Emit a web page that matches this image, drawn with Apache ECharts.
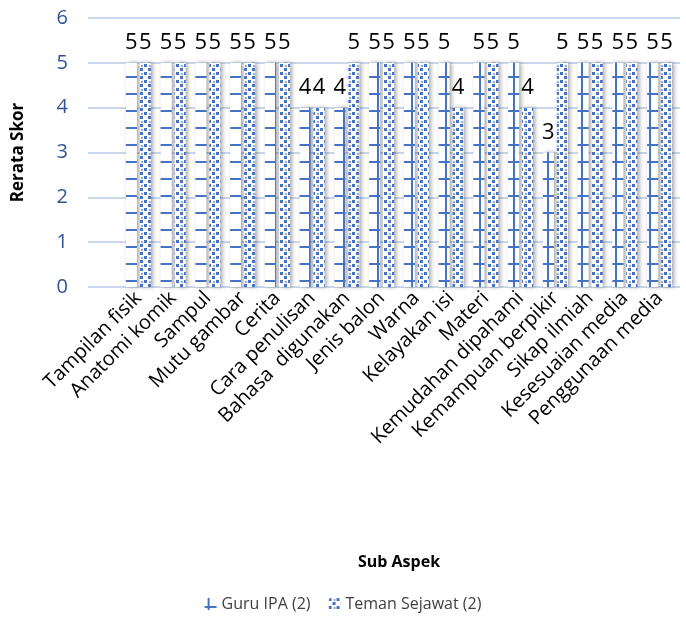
<!DOCTYPE html>
<html>
<head>
<meta charset="utf-8">
<script src="https://cdn.jsdelivr.net/npm/echarts@6/dist/echarts.min.js"></script>
<style>
  html, body { margin: 0; padding: 0; background: #fff; }
  #chart { width: 686px; height: 618px; }
</style>
</head>
<body>
<div id="chart"></div>
<script>
// data
var categories = ['Tampilan fisik', 'Anatomi komik', 'Sampul', 'Mutu gambar', 'Cerita',
  'Cara penulisan', 'Bahasa  digunakan', 'Jenis balon', 'Warna', 'Kelayakan isi', 'Materi',
  'Kemudahan dipahami', 'Kemampuan berpikir', 'Sikap ilmiah', 'Kesesuaian media', 'Penggunaan media'];
var guruIPA = [5, 5, 5, 5, 5, 4, 4, 5, 5, 5, 5, 5, 3, 5, 5, 5];
var temanSejawat = [5, 5, 5, 5, 5, 4, 5, 5, 5, 4, 5, 4, 5, 5, 5, 5];
var yTicks = [0, 1, 2, 3, 4, 5, 6];

var BLUE = '#4472C4';
var FONT = '"Open Sans", "Noto Sans", sans-serif';

// grid pattern for Guru IPA
function gridPattern() {
  var c = document.createElement('canvas');
  c.width = 17; c.height = 17;
  var g = c.getContext('2d');
  g.fillStyle = '#fff';
  g.fillRect(0, 0, 17, 17);
  g.fillStyle = BLUE;
  g.fillRect(3, 0, 2, 17);
  g.fillRect(0, 8, 17, 2);
  return c;
}
// dotted pattern for Teman Sejawat
function dotPattern() {
  var c = document.createElement('canvas');
  c.width = 8; c.height = 8;
  var g = c.getContext('2d');
  g.fillStyle = '#fff';
  g.fillRect(0, 0, 8, 8);
  g.fillStyle = BLUE;
  g.fillRect(0, 0, 3, 3);
  g.fillRect(4, 4, 3, 3);
  g.globalAlpha = 0.6;
  g.fillRect(5, 1, 2, 2);
  return c;
}

var chart = echarts.init(document.getElementById('chart'));

var labelStyle = {
  show: true,
  position: 'top',
  distance: 9,
  color: '#000',
  fontSize: 22,
  fontFamily: FONT
};
var shadow = {
  shadowBlur: 4,
  shadowColor: 'rgba(0,0,0,0.35)',
  shadowOffsetX: 2,
  shadowOffsetY: 0
};

chart.setOption({
  animation: false,
  textStyle: { fontFamily: FONT },
  legend: {
    bottom: 1,
    left: 'center',
    itemWidth: 12,
    itemHeight: 12,
    itemGap: 18,
    textStyle: { fontSize: 16, color: '#404040', fontFamily: FONT },
    data: ['Guru IPA (2)', 'Teman Sejawat (2)']
  },
  grid: [
    { left: 88, right: 6, top: 18, bottom: 331 },
    { left: 121, right: 9, top: 18, bottom: 331 }
  ],
  xAxis: [
    { gridIndex: 0, type: 'value', show: false, min: 0, max: 1 },
    {
      gridIndex: 1,
      type: 'category',
      data: categories,
      axisLine: { show: false },
      axisTick: { show: false },
      axisLabel: {
        rotate: 45,
        interval: 0,
        margin: 8,
        fontSize: 20,
        color: '#000',
        fontFamily: FONT
      },
      name: 'Sub Aspek',
      nameLocation: 'middle',
      nameGap: 267,
      nameTextStyle: { fontSize: 16, fontWeight: 'bold', color: '#000', fontFamily: FONT }
    }
  ],
  yAxis: [
    {
      gridIndex: 0,
      type: 'value',
      min: yTicks[0],
      max: yTicks[yTicks.length - 1],
      interval: 1,
      axisLine: { show: false },
      axisTick: { show: false },
      splitLine: { lineStyle: { color: '#C9D6EC', width: 2 } },
      axisLabel: { fontSize: 20, color: '#2F5597', margin: 20, fontFamily: FONT },
      name: 'Rerata Skor',
      nameLocation: 'middle',
      nameGap: 61,
      nameRotate: 90,
      nameTextStyle: { fontSize: 17, fontWeight: 'bold', color: '#000', fontFamily: FONT }
    },
    {
      gridIndex: 1,
      type: 'value',
      min: yTicks[0],
      max: yTicks[yTicks.length - 1],
      interval: 1,
      show: false,
      splitLine: { show: false }
    }
  ],
  series: [
    {
      name: 'Guru IPA (2)',
      type: 'bar',
      xAxisIndex: 1,
      yAxisIndex: 1,
      data: guruIPA,
      barWidth: 11,
      barGap: '27%',
      itemStyle: Object.assign({ color: { image: gridPattern(), repeat: 'repeat' } }, shadow),
      label: labelStyle
    },
    {
      name: 'Teman Sejawat (2)',
      type: 'bar',
      xAxisIndex: 1,
      yAxisIndex: 1,
      data: temanSejawat,
      barWidth: 11,
      barGap: '27%',
      itemStyle: Object.assign({ color: { image: dotPattern(), repeat: 'repeat' } }, shadow),
      label: labelStyle
    }
  ]
});
</script>
</body>
</html>
